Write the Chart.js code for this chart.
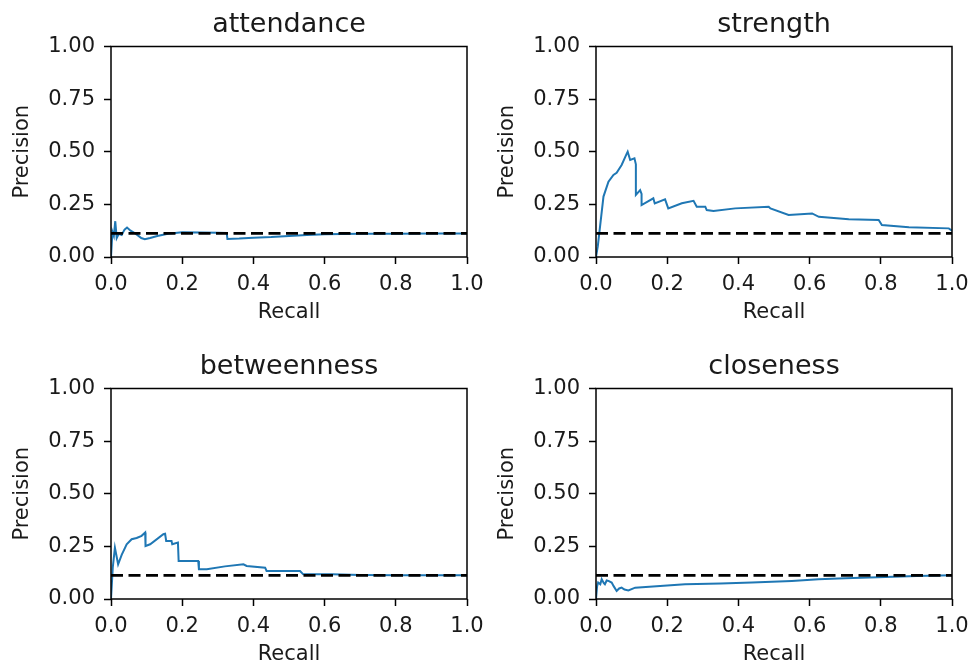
<!DOCTYPE html>
<html><head><meta charset="utf-8">
<script src="https://cdn.jsdelivr.net/npm/chart.js@4.4.1/dist/chart.umd.min.js"></script>
<style>
html,body{margin:0;padding:0;background:#fff;}
#wrap{position:relative;width:969px;height:671px;overflow:hidden;background:#fff;}
.cell{position:absolute;}
canvas{display:block;}
</style></head><body>
<div id="wrap">
<div class="cell" style="left:0px;top:0px"><canvas id="c0" width="484" height="330"></canvas></div>
<div class="cell" style="left:485px;top:0px"><canvas id="c1" width="484" height="330"></canvas></div>
<div class="cell" style="left:0px;top:341.5px"><canvas id="c2" width="484" height="330"></canvas></div>
<div class="cell" style="left:485px;top:341.5px"><canvas id="c3" width="484" height="330"></canvas></div>
</div>
<script>
// ---- data ----
const titles = ['attendance', 'strength', 'betweenness', 'closeness'];
const xAxisLabel = 'Recall';
const yAxisLabel = 'Precision';
const xTickValues = [0, 0.2, 0.4, 0.6, 0.8, 1.0];
const xTickLabels = ['0.0', '0.2', '0.4', '0.6', '0.8', '1.0'];
const yTickValues = [0, 0.25, 0.5, 0.75, 1.0];
const yTickLabels = ['0.00', '0.25', '0.50', '0.75', '1.00'];
const baselinePrecision = 0.112;

const attendanceRecall = [0, 0.004, 0.008, 0.012, 0.016, 0.022, 0.03, 0.038, 0.045, 0.055, 0.07, 0.085, 0.095, 0.11, 0.13, 0.16, 0.2, 0.25, 0.3, 0.325, 0.327, 0.36, 0.4, 0.45, 0.5, 0.55, 0.6, 0.7, 0.8, 0.9, 1.0];
const attendancePrecision = [0, 0.12, 0.10, 0.17, 0.09, 0.11, 0.105, 0.13, 0.14, 0.125, 0.11, 0.09, 0.085, 0.09, 0.10, 0.11, 0.118, 0.116, 0.115, 0.114, 0.086, 0.088, 0.092, 0.095, 0.10, 0.105, 0.108, 0.11, 0.111, 0.112, 0.112];

const strengthRecall = [0, 0.005, 0.021, 0.035, 0.049, 0.058, 0.072, 0.086, 0.089, 0.096, 0.108, 0.112, 0.112, 0.124, 0.128, 0.128, 0.161, 0.165, 0.194, 0.203, 0.241, 0.274, 0.283, 0.307, 0.311, 0.33, 0.391, 0.485, 0.49, 0.541, 0.607, 0.626, 0.71, 0.794, 0.803, 0.879, 0.991, 1.0];
const strengthPrecision = [0, 0.05, 0.287, 0.358, 0.39, 0.40, 0.437, 0.49, 0.50, 0.461, 0.469, 0.44, 0.295, 0.318, 0.30, 0.247, 0.279, 0.255, 0.274, 0.231, 0.255, 0.267, 0.239, 0.239, 0.223, 0.218, 0.231, 0.239, 0.231, 0.2, 0.207, 0.191, 0.179, 0.176, 0.152, 0.141, 0.136, 0.125];

const betweennessRecall = [0, 0.005, 0.011, 0.02, 0.03, 0.044, 0.058, 0.072, 0.086, 0.096, 0.097, 0.11, 0.147, 0.152, 0.155, 0.17, 0.172, 0.188, 0.19, 0.217, 0.245, 0.247, 0.269, 0.32, 0.372, 0.381, 0.433, 0.437, 0.531, 0.54, 0.62, 0.7, 0.8, 0.9, 1.0];
const betweennessPrecision = [0, 0.15, 0.244, 0.165, 0.21, 0.26, 0.284, 0.29, 0.30, 0.316, 0.252, 0.26, 0.308, 0.31, 0.276, 0.276, 0.26, 0.268, 0.181, 0.181, 0.181, 0.141, 0.141, 0.155, 0.165, 0.157, 0.149, 0.133, 0.133, 0.117, 0.117, 0.114, 0.113, 0.113, 0.113];

const closenessRecall = [0, 0.003, 0.006, 0.012, 0.016, 0.022, 0.025, 0.03, 0.035, 0.044, 0.05, 0.058, 0.065, 0.072, 0.08, 0.091, 0.11, 0.15, 0.25, 0.35, 0.438, 0.55, 0.625, 0.7, 0.813, 0.9, 1.0];
const closenessPrecision = [0, 0.06, 0.078, 0.07, 0.094, 0.075, 0.07, 0.088, 0.086, 0.078, 0.06, 0.038, 0.05, 0.054, 0.045, 0.041, 0.054, 0.058, 0.07, 0.074, 0.078, 0.086, 0.094, 0.099, 0.105, 0.109, 0.113];

const seriesRecall = [attendanceRecall, strengthRecall, betweennessRecall, closenessRecall];
const seriesPrecision = [attendancePrecision, strengthPrecision, betweennessPrecision, closenessPrecision];

// ---- drawing ----
const FONT = "'DejaVu Sans', sans-serif";
const TXT = '#1a1a1a';

const boxPlugin = {
  id: 'axesBox',
  afterDatasetsDraw(chart) {
    const a = chart.chartArea, ctx = chart.ctx;
    ctx.save();
    ctx.strokeStyle = '#000';
    ctx.lineWidth = 1.5;
    ctx.strokeRect(a.left, a.top, a.right - a.left, a.bottom - a.top);
    ctx.restore();
  }
};

function makeChart(i) {
  const pts = seriesRecall[i].map((r, k) => ({x: r, y: seriesPrecision[i][k]}));
  const base = [{x: xTickValues[0], y: baselinePrecision}, {x: xTickValues[xTickValues.length - 1], y: baselinePrecision}];
  new Chart(document.getElementById('c' + i), {
    type: 'line',
    data: {
      datasets: [
        {data: base, borderColor: '#000', borderWidth: 2.8, borderDash: [12, 5.5], pointRadius: 0, fill: false},
        {data: pts, borderColor: '#1f77b4', borderWidth: 2, pointRadius: 0, fill: false, tension: 0}
      ]
    },
    plugins: [boxPlugin],
    options: {
      responsive: false,
      animation: false,
      events: [],
      layout: {padding: {left: 0, right: 17, top: 0, bottom: 0}},
      plugins: {
        legend: {display: false},
        tooltip: {enabled: false},
        title: {
          display: true, text: titles[i], color: TXT, fullSize: false,
          font: {family: FONT, size: 27, weight: 'normal', lineHeight: 1.2},
          padding: {top: 8.8, bottom: 5.3}
        }
      },
      scales: {
        x: {
          type: 'linear', min: 0, max: 1,
          afterFit(s) { s.height = 73; s.paddingLeft = 0; s.paddingRight = 0; },
          afterBuildTicks(s) { s.ticks = xTickValues.map(v => ({value: v})); },
          ticks: {
            autoSkip: false, maxRotation: 0, padding: 8, color: TXT,
            font: {family: FONT, size: 21},
            callback: (v, idx) => xTickLabels[idx]
          },
          grid: {display: true, drawOnChartArea: false, drawTicks: true, tickLength: 7, tickWidth: 1.5, tickColor: '#000', color: '#000'},
          border: {display: false},
          title: {display: true, text: xAxisLabel, color: TXT, font: {family: FONT, size: 21}, padding: {top: 0, bottom: 4.4}}
        },
        y: {
          type: 'linear', min: 0, max: 1,
          afterFit(s) { s.width = 111; s.paddingTop = 0; s.paddingBottom = 0; },
          afterBuildTicks(s) { s.ticks = yTickValues.map(v => ({value: v})); },
          ticks: {
            autoSkip: false, padding: 9, color: TXT,
            font: {family: FONT, size: 21},
            callback: (v, idx) => yTickLabels[idx]
          },
          grid: {display: true, drawOnChartArea: false, drawTicks: true, tickLength: 7, tickWidth: 1.5, tickColor: '#000', color: '#000'},
          border: {display: false},
          title: {display: true, text: yAxisLabel, color: TXT, font: {family: FONT, size: 21}, padding: {top: 10, bottom: 0}}
        }
      }
    }
  });
}
for (let i = 0; i < 4; i++) makeChart(i);
</script>
</body></html>
